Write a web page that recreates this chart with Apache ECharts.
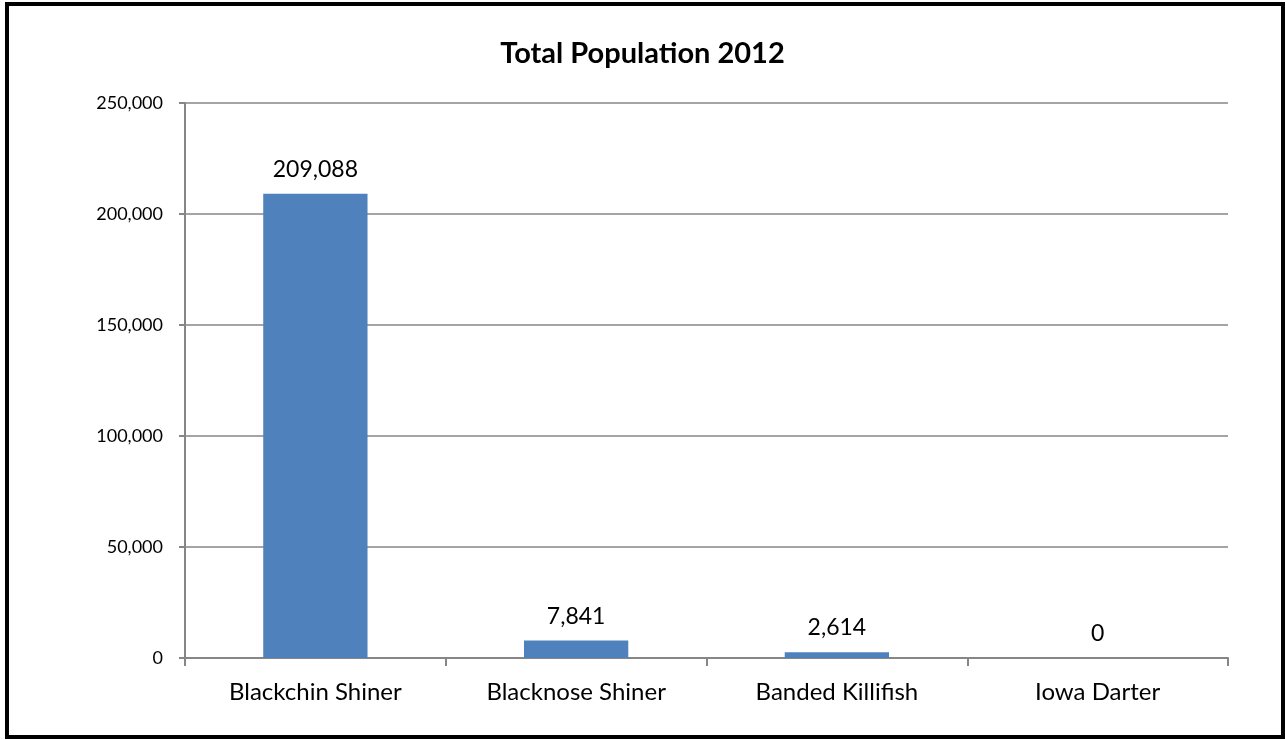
<!DOCTYPE html>
<html>
<head>
<meta charset="utf-8">
<script src="https://cdn.jsdelivr.net/npm/echarts@6/dist/echarts.min.js"></script>
<style>
  html, body { margin: 0; padding: 0; background: #fff; }
  #chart { width: 1285px; height: 740px; }
</style>
</head>
<body>
<div id="chart"></div>
<script>
// Fish species counted in the 2012 survey
const species = ['Blackchin Shiner', 'Blacknose Shiner', 'Banded Killifish', 'Iowa Darter'];
const population = [209088, 7841, 2614, 0];
const chartTitle = 'Total Population 2012';

const fmt = v => Number(v).toLocaleString('en-US');
const FONT = 'Lato, "Liberation Sans", sans-serif';

const chart = echarts.init(document.getElementById('chart'), null, { renderer: 'canvas' });
chart.setOption({
  animation: false,
  backgroundColor: '#ffffff',
  title: {
    text: chartTitle,
    left: 'center',
    top: 34,
    textStyle: { fontFamily: FONT, fontSize: 29, fontWeight: 'bold', color: '#000' }
  },
  graphic: [{
    type: 'rect',
    shape: { x: 7, y: 4, width: 1276, height: 733 },
    style: { fill: 'none', stroke: '#000', lineWidth: 4 },
    silent: true
  }],
  grid: { left: 185, right: 57, top: 103, bottom: 82 },
  xAxis: {
    type: 'category',
    data: species,
    axisLine: { lineStyle: { color: '#868686', width: 2 } },
    axisTick: { show: true, length: 8, lineStyle: { color: '#868686', width: 2 } },
    axisLabel: { fontFamily: FONT, fontSize: 24, color: '#000', margin: 22 }
  },
  yAxis: {
    type: 'value',
    min: 0,
    max: 250000,
    interval: 50000,
    axisLine: { show: true, lineStyle: { color: '#868686', width: 2 } },
    axisTick: { show: true, length: 6, lineStyle: { color: '#868686', width: 2 } },
    splitLine: { lineStyle: { color: '#868686', width: 1.5 } },
    axisLabel: { fontFamily: FONT, fontSize: 18, color: '#000', margin: 22, formatter: fmt }
  },
  series: [{
    type: 'bar',
    data: population,
    barWidth: '40%',
    itemStyle: { color: '#4f81bd' },
    label: {
      show: true,
      position: 'top',
      distance: 13,
      fontFamily: FONT,
      fontSize: 23,
      color: '#000',
      formatter: p => fmt(p.value)
    }
  }]
});
</script>
</body>
</html>
